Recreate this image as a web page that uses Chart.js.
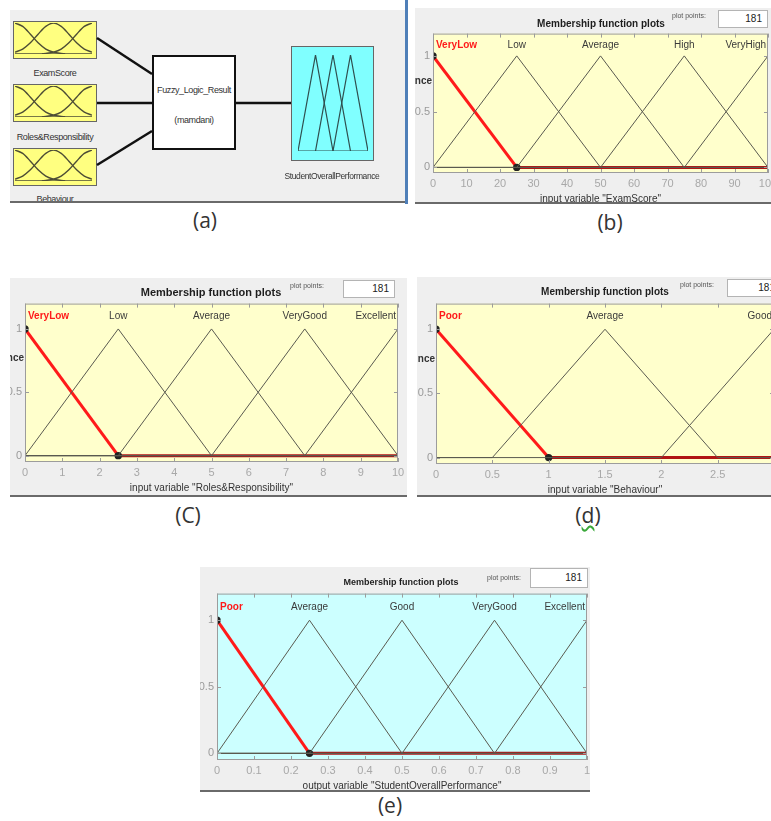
<!DOCTYPE html>
<html>
<head>
<meta charset="utf-8">
<script src="https://cdn.jsdelivr.net/npm/chart.js@4.4.1/dist/chart.umd.min.js"></script>
<style>
  body { margin: 0; background: #fff; font-family: "Liberation Sans", Arial, sans-serif; }
  #page { position: relative; width: 771px; height: 821px; overflow: hidden; background: #fff; }
  .panel { position: absolute; background: #efefef; overflow: hidden; border-bottom: 2px solid #6a6a6a; box-sizing: border-box; }
  .panel canvas { position: absolute; }
  .abs { position: absolute; white-space: nowrap; }
  .ctr { transform: translate(-50%, -50%); }
  .title { font-weight: bold; color: #1e1e1e; }
  .pp { font-size: 7px; color: #555; transform: translateY(-50%); }
  .box181 { position: absolute; background: #fff; border: 1px solid #b4b4b4; box-sizing: border-box; font-size: 10px; text-align: right; padding-right: 5px; color: #222; }
  .cap { position: absolute; font-family: "Open Sans", sans-serif; font-size: 21px; color: #333; transform: translate(-50%, -50%); }
  .lbl { font-size: 9px; color: #333; letter-spacing: -0.4px; }
  .icon { position: absolute; border: 1px solid #666; box-sizing: border-box; }
</style>
</head>
<body>
<div id="page">
  <div class="panel" id="pa" style="left:10px;top:10px;width:395px;height:193px;">
    <div class="icon" style="left:3px;top:11px;width:84px;height:38px;background:#ffff80;"><canvas id="ic1" width="82" height="36"></canvas></div>
    <div class="icon" style="left:3px;top:74px;width:84px;height:38px;background:#ffff80;"><canvas id="ic2" width="82" height="36"></canvas></div>
    <div class="icon" style="left:3px;top:138px;width:84px;height:38px;background:#ffff80;"><canvas id="ic3" width="82" height="36"></canvas></div>
    <div class="abs ctr lbl" style="left:45px;top:63px;">ExamScore</div>
    <div class="abs ctr lbl" style="left:45px;top:127px;">Roles&amp;Responsibility</div>
    <div class="abs ctr lbl" style="left:45px;top:189px;">Behaviour</div>
    <svg class="abs" style="left:0;top:0;" width="395" height="193">
      <g stroke="#111" stroke-width="2.5">
        <line x1="87" y1="28" x2="142" y2="64"/>
        <line x1="87" y1="93" x2="142" y2="93"/>
        <line x1="87" y1="155" x2="142" y2="121"/>
        <line x1="226" y1="93" x2="281" y2="93"/>
      </g>
    </svg>
    <div class="abs" style="left:142px;top:45px;width:84px;height:95px;background:#fff;border:2px solid #111;box-sizing:border-box;"></div>
    <div class="abs ctr lbl" style="left:184px;top:80px;">Fuzzy_Logic_Result</div>
    <div class="abs ctr lbl" style="left:184px;top:110px;">(mamdani)</div>
    <div class="icon" style="left:281px;top:36px;width:83px;height:115px;background:#80ffff;"><canvas id="ic4" width="81" height="113"></canvas></div>
    <div class="abs ctr lbl" style="left:322px;top:166px;font-size:8.5px;">StudentOverallPerformance</div>
  </div>
  <div class="abs" style="left:405px;top:0;width:3px;height:204px;background:#4f7fb8;"></div>

  <div class="cap" style="left:205px;top:220px;">(a)</div>
  <div class="cap" style="left:610px;top:222px;">(b)</div>
  <div class="cap" style="left:188px;top:515px;">(C)</div>
  <div class="cap" style="left:588px;top:515px;">(<span style="text-decoration:underline wavy #3aa83a;">d</span>)</div>
  <div class="cap" style="left:390px;top:805px;">(e)</div>
</div>

<script>
// ---- data ----
const yTicks = [0, 0.5, 1];
const plotPoints = 181;

const examTicks = [0, 10, 20, 30, 40, 50, 60, 70, 80, 90, 100];
const examNames = ["VeryLow", "Low", "Average", "High", "VeryHigh"];
const examParams = [[-25, 0, 25], [0, 25, 50], [25, 50, 75], [50, 75, 100], [75, 100, 125]];

const rolesTicks = [0, 1, 2, 3, 4, 5, 6, 7, 8, 9, 10];
const rolesNames = ["VeryLow", "Low", "Average", "VeryGood", "Excellent"];
const rolesParams = [[-2.5, 0, 2.5], [0, 2.5, 5], [2.5, 5, 7.5], [5, 7.5, 10], [7.5, 10, 12.5]];

const behavTicks = [0, 0.5, 1, 1.5, 2, 2.5, 3];
const behavNames = ["Poor", "Average", "Good"];
const behavParams = [[-1, 0, 1], [0.5, 1.5, 2.5], [2, 3, 4]];

const perfTicks = [0, 0.1, 0.2, 0.3, 0.4, 0.5, 0.6, 0.7, 0.8, 0.9, 1];
const perfNames = ["Poor", "Average", "Good", "VeryGood", "Excellent"];
const perfParams = [[-0.25, 0, 0.25], [0, 0.25, 0.5], [0.25, 0.5, 0.75], [0.5, 0.75, 1], [0.75, 1, 1.25]];

// little icons in the FIS diagram
const bellX = [0, 0.2, 0.4, 0.6, 0.8, 1, 1.2, 1.4, 1.6, 1.8, 2];
const bellLow = [1, 0.89, 0.64, 0.36, 0.16, 0.06, 0.02, 0, 0, 0, 0];
const bellMid = [0.06, 0.16, 0.36, 0.64, 0.89, 1, 0.89, 0.64, 0.36, 0.16, 0.06];
const bellHigh = [0, 0, 0, 0, 0.02, 0.06, 0.16, 0.36, 0.64, 0.89, 1];
const outTriangles = [[0, 1, 2], [1, 2, 3], [2, 3, 4]];

Chart.defaults.font.family = '"Liberation Sans", Arial, sans-serif';
Chart.defaults.animation = false;

const page = document.getElementById("page");

function mfPoints(p, lo, hi) {
  const pts = [];
  if (p[1] > lo) pts.push({ x: lo, y: 0 });
  pts.push({ x: p[0], y: 0 }, { x: p[1], y: 1 }, { x: p[2], y: 0 });
  if (p[1] < hi) pts.push({ x: hi, y: 0 });
  return pts.filter(q => q.x >= lo && q.x <= hi);
}

function addEl(parent, cls, html, x, y, style) {
  const el = document.createElement("div");
  el.className = cls;
  el.innerHTML = html;
  el.style.left = x + "px";
  el.style.top = y + "px";
  Object.assign(el.style, style || {});
  parent.appendChild(el);
  return el;
}

function mfChart(panel, plot, spec) {
  const div = document.createElement("div");
  div.className = "panel";
  Object.assign(div.style, { left: panel.x + "px", top: panel.y + "px", width: panel.w + "px", height: panel.h + "px" });
  page.appendChild(div);

  const W = plot.r - plot.l + 40 + 16, H = plot.b - plot.t + 8 + 34;
  const cv = document.createElement("canvas");
  cv.width = W; cv.height = H;
  Object.assign(cv.style, { left: (plot.l - 40 - panel.x) + "px", top: (plot.t - 8 - panel.y) + "px", width: W + "px", height: H + "px" });
  div.appendChild(cv);

  addEl(div, "abs ctr title", "Membership function plots", spec.title.x - panel.x, spec.title.y - panel.y, { fontSize: spec.title.size + "px" });
  addEl(div, "abs pp", "plot points:", spec.pp.x - panel.x, spec.pp.y - panel.y);
  addEl(div, "box181", String(plotPoints), spec.box.x - panel.x, spec.box.y - panel.y,
    { width: spec.box.w + "px", height: spec.box.h + "px", lineHeight: (spec.box.h - 2) + "px" });

  const lo = spec.ticks[0], hi = spec.ticks[spec.ticks.length - 1];
  const datasets = spec.params.map((p, i) => ({
    data: mfPoints(p, lo, hi),
    borderColor: i === 0 ? "#ff1a1a" : "#5a5a50",
    borderWidth: i === 0 ? 3 : 1,
    order: i === 0 ? 1 : 0,
    pointRadius: i === 0 ? (c => c.dataIndex < 2 ? 2.2 : 0) : 0,
    pointBackgroundColor: "#444",
    pointBorderColor: "#222",
    segment: i === 0 ? { borderColor: c => (c.p0.parsed.y === 0 && c.p1.parsed.y === 0) ? "#b01414" : undefined } : undefined,
    tension: 0
  }));

  const decor = {
    id: "decor",
    beforeDraw(chart) {
      const { ctx, chartArea: a } = chart;
      ctx.save();
      ctx.fillStyle = spec.bg;
      ctx.fillRect(a.left, a.top, a.right - a.left, a.bottom - a.top);
      ctx.restore();
    },
    afterDraw(chart) {
      const { ctx, chartArea: a, scales: { x, y } } = chart;
      ctx.save();
      ctx.strokeStyle = "#9c9c9c";
      ctx.lineWidth = 1;
      ctx.strokeRect(a.left + 0.5, a.top + 0.5, a.right - a.left - 1, a.bottom - a.top - 1);
      ctx.beginPath();
      spec.ticks.forEach(v => {
        const px = Math.round(x.getPixelForValue(v)) + 0.5;
        ctx.moveTo(px, a.bottom); ctx.lineTo(px, a.bottom - 4);
        ctx.moveTo(px, a.top); ctx.lineTo(px, a.top + 4);
      });
      yTicks.forEach(v => {
        const py = Math.round(y.getPixelForValue(v)) + 0.5;
        ctx.moveTo(a.left, py); ctx.lineTo(a.left + 4, py);
        ctx.moveTo(a.right, py); ctx.lineTo(a.right - 4, py);
      });
      ctx.stroke();

      ctx.textBaseline = "middle";
      const ly = y.getPixelForValue(1.1);
      spec.names.forEach((n, i) => {
        const last = i === spec.names.length - 1;
        ctx.font = (i === 0 ? "bold " : "") + '10px "Liberation Sans", Arial';
        ctx.fillStyle = i === 0 ? "#ff1a1a" : "#3a3a3a";
        let px = x.getPixelForValue(spec.params[i][1]);
        if (i === 0) { ctx.textAlign = "left"; px = a.left + 3; }
        else if (last) { ctx.textAlign = "right"; px = a.right - 2; }
        else ctx.textAlign = "center";
        ctx.fillText(n, px, ly);
      });

      ctx.font = '10px "Liberation Sans", Arial';
      ctx.fillStyle = "#333";
      ctx.textAlign = "center";
      ctx.fillText(spec.xLabel, (a.left + a.right) / 2, a.bottom + 26);
      if (spec.yLabel) {
        ctx.font = 'bold 10px "Liberation Sans", Arial';
        ctx.textAlign = "right";
        ctx.fillText(spec.yLabel, a.left - 1, y.getPixelForValue(0.77));
      }
      ctx.restore();
    }
  };

  new Chart(cv.getContext("2d"), {
    type: "line",
    data: { datasets },
    options: {
      responsive: false,
      devicePixelRatio: 1,
      layout: { padding: { top: 8, right: 16, left: 0, bottom: 0 } },
      plugins: { legend: { display: false }, tooltip: { enabled: false } },
      scales: {
        x: {
          type: "linear", min: lo, max: hi,
          afterBuildTicks: s => { s.ticks = spec.ticks.map(v => ({ value: v })); },
          afterFit: s => { s.height = 34; },
          grid: { display: false, drawTicks: false }, border: { display: false },
          ticks: { color: "#a8a8a8", font: { size: 11 }, padding: 4, maxRotation: 0, autoSkip: false, callback: v => String(v) }
        },
        y: {
          min: -0.05, max: 1.2,
          afterBuildTicks: s => { s.ticks = yTicks.map(v => ({ value: v })); },
          afterFit: s => { s.width = 40; },
          grid: { display: false, drawTicks: false }, border: { display: false },
          ticks: { color: "#9a9a9a", font: { size: 11 }, padding: 3, callback: v => String(v) }
        }
      }
    },
    plugins: [decor]
  });
}

mfChart({ x: 415, y: 8, w: 356, h: 196 }, { l: 433, t: 32, r: 768, b: 173 }, {
  ticks: examTicks, names: examNames, params: examParams, bg: "#ffffcc",
  xLabel: 'input variable "ExamScore"', yLabel: "nce",
  title: { x: 601, y: 23, size: 10 }, pp: { x: 672, y: 15 }, box: { x: 718, y: 10, w: 50, h: 18 }
});
mfChart({ x: 10, y: 278, w: 397, h: 219 }, { l: 25, t: 302, r: 398, b: 462 }, {
  ticks: rolesTicks, names: rolesNames, params: rolesParams, bg: "#ffffcc",
  xLabel: 'input variable "Roles&Responsibility"', yLabel: "nce",
  title: { x: 211, y: 292, size: 11 }, pp: { x: 290, y: 285 }, box: { x: 343, y: 280, w: 52, h: 18 }
});
mfChart({ x: 417, y: 277, w: 354, h: 220 }, { l: 436, t: 302, r: 774, b: 464 }, {
  ticks: behavTicks, names: behavNames, params: behavParams, bg: "#ffffcc",
  xLabel: 'input variable "Behaviour"', yLabel: "nce",
  title: { x: 605, y: 291, size: 10 }, pp: { x: 680, y: 284 }, box: { x: 727, y: 279, w: 54, h: 18 }
});
mfChart({ x: 200, y: 567, w: 390, h: 225 }, { l: 217, t: 592, r: 587, b: 760 }, {
  ticks: perfTicks, names: perfNames, params: perfParams, bg: "#ccffff",
  xLabel: 'output variable "StudentOverallPerformance"', yLabel: "",
  title: { x: 401, y: 582, size: 9 }, pp: { x: 487, y: 577 }, box: { x: 530, y: 568, w: 58, h: 20 }
});

// ---- FIS diagram icons ----
function iconChart(id, sets, xmax, pad) {
  new Chart(document.getElementById(id).getContext("2d"), {
    type: "line",
    data: { datasets: sets.map(s => ({ data: s, borderColor: "#4d4d35", borderWidth: 1.4, pointRadius: 0, cubicInterpolationMode: "monotone" })) },
    options: {
      responsive: false, devicePixelRatio: 1,
      layout: { padding: pad },
      plugins: { legend: { display: false }, tooltip: { enabled: false } },
      scales: { x: { type: "linear", min: 0, max: xmax, display: false }, y: { min: 0, max: 1, display: false } }
    }
  });
}
const bellSets = [bellLow, bellMid, bellHigh].map(ys => bellX.map((x, i) => ({ x, y: ys[i] })));
bellSets.push([{ x: 0.7, y: 0 }, { x: 1.3, y: 0 }]);
["ic1", "ic2", "ic3"].forEach(id => iconChart(id, bellSets, 2, { left: 1, right: 4, top: 1, bottom: 4 }));

const triSets = outTriangles.map(t => [{ x: t[0], y: 0 }, { x: t[1], y: 1 }, { x: t[2], y: 0 }]);
triSets.push([{ x: 0, y: 0 }, { x: 4, y: 0 }]);
new Chart(document.getElementById("ic4").getContext("2d"), {
  type: "line",
  data: { datasets: triSets.map(s => ({ data: s, borderColor: "#2f4f4f", borderWidth: 1.2, pointRadius: 0, tension: 0 })) },
  options: {
    responsive: false, devicePixelRatio: 1,
    layout: { padding: { left: 6, right: 5, top: 8, bottom: 9 } },
    plugins: { legend: { display: false }, tooltip: { enabled: false } },
    scales: { x: { type: "linear", min: 0, max: 4, display: false }, y: { min: 0, max: 1, display: false } }
  }
});
</script>
</body>
</html>
